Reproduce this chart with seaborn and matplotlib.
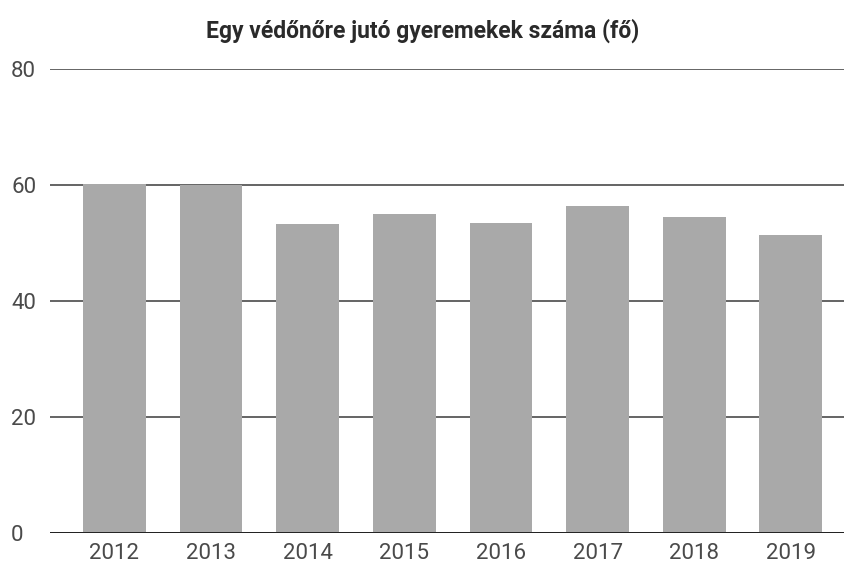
import matplotlib
matplotlib.use("Agg")
import matplotlib.pyplot as plt
import seaborn as sns
import pandas as pd

years = ["2012", "2013", "2014", "2015", "2016", "2017", "2018", "2019"]
children_per_nurse = [60.2, 60.0, 53.3, 55.0, 53.4, 56.4, 54.4, 51.4]
y_ticks = [0, 20, 40, 60, 80]
title = "Egy védőnőre jutó gyeremekek száma (fő)"

df = pd.DataFrame({"year": years, "value": children_per_nurse})

sns.set_theme(style="white")
plt.rcParams["font.family"] = ["Roboto", "DejaVu Sans"]

fig = plt.figure(figsize=(8.45, 5.64), dpi=100)
ax = fig.add_axes([50 / 845, 1 - 533 / 564, 795 / 845, (533 - 69) / 564])

sns.barplot(data=df, x="year", y="value", color="#a9a9a9", saturation=1,
            width=0.65, linewidth=0, ax=ax, zorder=3)

ax.set_ylim(0, 80)
ax.set_xlim(-0.666, 7.56)
ax.set_yticks(y_ticks)
ax.yaxis.grid(True, color="#3a3a3a", linewidth=1.1, zorder=0)
ax.axhline(0, color="#222222", linewidth=1.4, zorder=4)
for s in ax.spines.values():
    s.set_visible(False)

ax.set_xlabel("")
ax.set_ylabel("")
ax.tick_params(axis="x", length=0, pad=7, labelsize=16, labelcolor="#4a4a4a")
ax.tick_params(axis="y", length=0, pad=28, labelsize=16, labelcolor="#4a4a4a")
for lbl in ax.get_yticklabels():
    lbl.set_horizontalalignment("left")

fig.text(0.5, 1 - 31 / 564, title, ha="center", va="center",
         fontsize=16.5, fontweight="bold", color="#2a2a2a")

fig.savefig("out.png", dpi=100, facecolor="white")
